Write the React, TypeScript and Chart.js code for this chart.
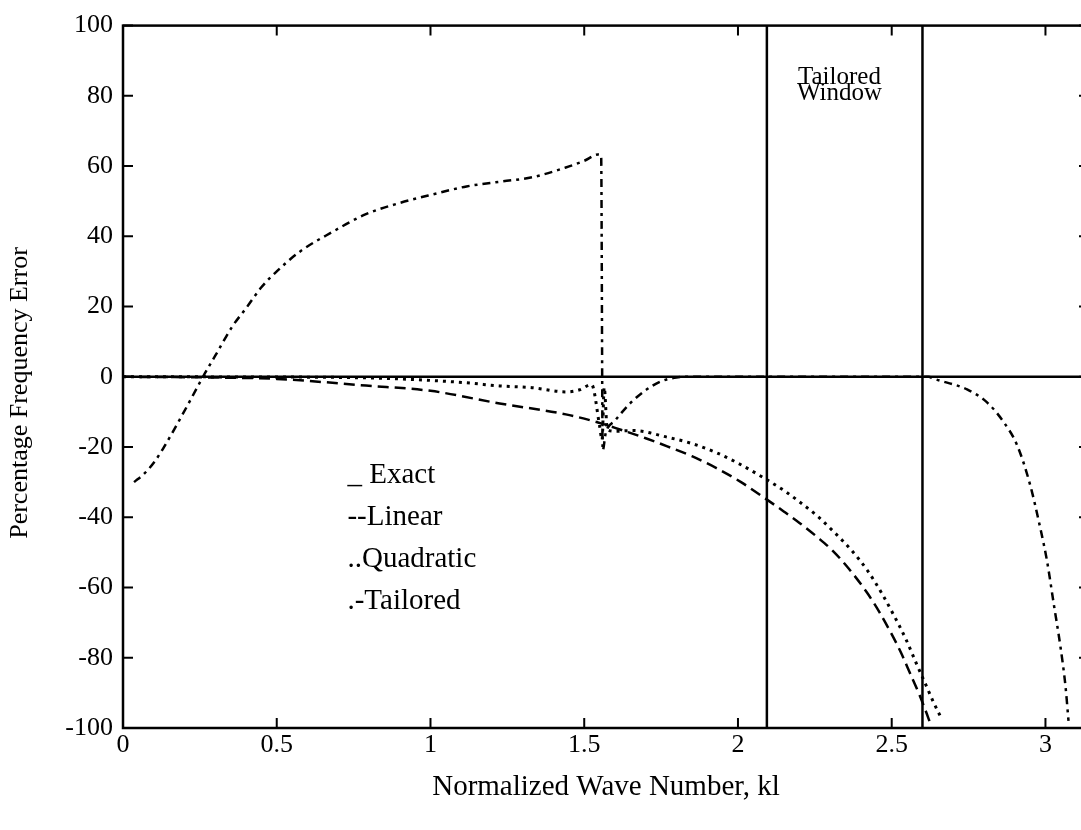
import React, { useEffect, useRef } from 'react';
import { Chart, registerables } from 'chart.js';

Chart.register(...registerables);

const SERIF = '"Liberation Serif", "Times New Roman", Times, serif';

// Axis ranges and tick values
const X_MIN = 0;
const X_MAX = 3.1416;
const Y_MIN = -100;
const Y_MAX = 100;
const xTickValues = [0, 0.5, 1, 1.5, 2, 2.5, 3];
const yTickValues = [-100, -80, -60, -40, -20, 0, 20, 40, 60, 80, 100];

// Exact dispersion: zero error everywhere
const exactX = [0, 3.1416];
const exactY = [0, 0];

// Linear elements
const linearX = [0, 0.3, 0.5, 0.79, 1.0, 1.225, 1.44, 1.545, 1.616, 1.7, 1.77, 1.85, 1.93, 2.01, 2.088, 2.15, 2.2, 2.26, 2.31, 2.36, 2.42, 2.46, 2.495, 2.53, 2.56, 2.59, 2.61, 2.625];
const linearY = [0, -0.2, -0.6, -2.5, -4, -7.6, -10.7, -13, -15, -17.5, -19.8, -22.6, -26, -30, -34.6, -38.4, -41.6, -45.8, -49.7, -54.6, -61.5, -67, -72.5, -78.5, -84.5, -90.5, -95, -98.6];

// Quadratic elements
const quadraticX = [0, 0.6, 0.79, 0.95, 1.117, 1.225, 1.33, 1.443, 1.485, 1.524, 1.55, 1.558, 1.565, 1.575, 1.6, 1.66, 1.77, 1.85, 1.93, 2.0, 2.088, 2.15, 2.2, 2.26, 2.31, 2.37, 2.42, 2.47, 2.505, 2.545, 2.58, 2.61, 2.635, 2.66];
const quadraticY = [0, -0.1, -0.3, -0.8, -1.7, -2.6, -3.1, -4.3, -3.7, -2.2, -14, -18, -3, -15, -15.5, -15.3, -17.2, -19, -21.6, -24.6, -29, -32.4, -35.6, -39.8, -44, -49.5, -55, -62, -67.6, -74.5, -81.6, -87.5, -92.5, -97];

// Tailored elements
const tailoredX = [0.036, 0.07, 0.1, 0.13, 0.16, 0.19, 0.225, 0.26, 0.3, 0.356, 0.4, 0.45, 0.5, 0.573, 0.68, 0.79, 0.9, 1.01, 1.117, 1.23, 1.33, 1.44, 1.5, 1.545, 1.555, 1.56, 1.57, 1.6, 1.65, 1.7, 1.75, 1.8, 1.85, 2.0, 2.3, 2.62, 2.635, 2.745, 2.81, 2.865, 2.908, 2.95, 2.983, 3.005, 3.027, 3.049, 3.065, 3.075];
const tailoredY = [-30, -27.5, -24.5, -20.5, -16, -11.3, -5.7, 0, 6, 14.4, 19.5, 25.5, 30, 35.5, 41.2, 46.3, 49.5, 52, 54.2, 55.6, 56.8, 59.6, 61.5, 63.3, 63, -21, -16, -12.5, -7.5, -3.8, -1.3, -0.2, 0, 0, 0, 0, -0.5, -3.6, -7.3, -13, -19.5, -30.7, -43, -52.4, -64.7, -77, -88, -98];

// Edges of the tailored window
const windowEdges = [2.094, 2.6];

// Text annotations (data coordinates)
const legendLines = ['_ Exact', '--Linear', '..Quadratic', '.-Tailored'];
const legendX = 0.73;
const legendY = [-28, -40, -52, -64];
const windowLabel = ['Tailored', 'Window'];
const windowLabelX = 2.33;
const windowLabelY = [85.2, 80.8];

const xTitle = 'Normalized Wave Number, kl';
const yTitle = 'Percentage Frequency Error';

const toPoints = (xs: number[], ys: number[]) => xs.map((x, i) => ({ x, y: ys[i] }));

const framePlugin = {
  id: 'frameAndNotes',
  afterDatasetsDraw(chart: any) {
    const { ctx, chartArea, scales } = chart;
    const { left, right, top, bottom } = chartArea;
    const xs = scales.x;
    const ys = scales.y;
    ctx.save();
    ctx.strokeStyle = '#000';
    ctx.lineWidth = 2.5;
    ctx.strokeRect(left, top, right - left, bottom - top);

    // inward tick marks on all four sides
    const len = 10;
    ctx.lineWidth = 2;
    ctx.beginPath();
    xs.ticks.forEach((t: any) => {
      const px = xs.getPixelForValue(t.value);
      ctx.moveTo(px, bottom);
      ctx.lineTo(px, bottom - len);
      ctx.moveTo(px, top);
      ctx.lineTo(px, top + len);
    });
    ys.ticks.forEach((t: any) => {
      const py = ys.getPixelForValue(t.value);
      ctx.moveTo(left, py);
      ctx.lineTo(left + len, py);
      ctx.moveTo(right, py);
      ctx.lineTo(right - len, py);
    });
    ctx.stroke();

    ctx.fillStyle = '#000';
    ctx.textBaseline = 'middle';

    // legend text
    ctx.font = `29px ${SERIF}`;
    ctx.textAlign = 'left';
    legendLines.forEach((s, i) => {
      ctx.fillText(s, xs.getPixelForValue(legendX), ys.getPixelForValue(legendY[i]));
    });

    // window label
    ctx.font = `25px ${SERIF}`;
    ctx.textAlign = 'center';
    windowLabel.forEach((s, i) => {
      ctx.fillText(s, xs.getPixelForValue(windowLabelX), ys.getPixelForValue(windowLabelY[i]));
    });

    // y axis title
    ctx.font = `26px ${SERIF}`;
    ctx.translate(20, 393);
    ctx.rotate(-Math.PI / 2);
    ctx.textAlign = 'center';
    ctx.fillText(yTitle, 0, 0);
    ctx.restore();
  },
};

export default function App() {
  const canvasRef = useRef<HTMLCanvasElement | null>(null);

  useEffect(() => {
    const canvas = canvasRef.current;
    if (!canvas) return;

    const curve = (label: string, pts: { x: number; y: number }[], dash: number[], width: number) => ({
      label,
      data: pts,
      borderColor: '#000',
      borderWidth: width,
      borderDash: dash,
      borderCapStyle: 'butt' as const,
      pointRadius: 0,
      fill: false,
      cubicInterpolationMode: 'monotone' as const,
    });

    const datasets: any[] = [
      { label: 'Exact', data: toPoints(exactX, exactY), borderColor: '#000', borderWidth: 2.5, pointRadius: 0, fill: false },
      curve('Linear', toPoints(linearX, linearY), [11, 6], 2.5),
      curve('Quadratic', toPoints(quadraticX, quadraticY), [3, 5], 3),
      curve('Tailored', toPoints(tailoredX, tailoredY), [8, 5, 3, 5], 2.5),
      ...windowEdges.map((e) => ({
        label: 'window',
        data: [{ x: e, y: Y_MIN }, { x: e, y: Y_MAX }],
        borderColor: '#000',
        borderWidth: 2.5,
        pointRadius: 0,
        fill: false,
      })),
    ];

    const tickFont = { family: SERIF, size: 26 };

    const chart = new Chart(canvas, {
      type: 'line',
      data: { datasets },
      options: {
        animation: false,
        responsive: false,
        devicePixelRatio: 1,
        layout: { padding: { left: 0, right: 11, top: 20, bottom: 0 } },
        plugins: {
          legend: { display: false },
          tooltip: { enabled: false },
        },
        scales: {
          x: {
            type: 'linear',
            min: X_MIN,
            max: X_MAX,
            grid: { display: false, drawTicks: false, tickLength: 0 },
            border: { display: false },
            ticks: {
              color: '#000',
              font: tickFont,
              padding: 2,
              maxRotation: 0,
              includeBounds: false,
              callback: (v: any) => String(v),
            },
            afterBuildTicks: (s: any) => {
              s.ticks = xTickValues.map((value) => ({ value }));
            },
            afterFit: (s: any) => {
              s.height = 102;
            },
            title: {
              display: true,
              text: xTitle,
              color: '#000',
              font: { family: SERIF, size: 29 },
              padding: { top: 0, bottom: 25 },
            },
          },
          y: {
            type: 'linear',
            min: Y_MIN,
            max: Y_MAX,
            grid: { display: false, drawTicks: false, tickLength: 0 },
            border: { display: false },
            ticks: {
              color: '#000',
              font: tickFont,
              padding: 10,
              includeBounds: false,
              callback: (v: any) => String(v),
            },
            afterBuildTicks: (s: any) => {
              s.ticks = yTickValues.map((value) => ({ value }));
            },
            afterFit: (s: any) => {
              s.width = 123;
            },
          },
        },
      },
      plugins: [framePlugin],
    });

    return () => chart.destroy();
  }, []);

  return (
    <div
      style={{
        position: 'fixed',
        left: 0,
        top: 0,
        width: 1081,
        height: 830,
        overflow: 'hidden',
        background: '#fff',
      }}
    >
      <canvas ref={canvasRef} width={1100} height={830} style={{ display: 'block', width: 1100, height: 830 }} />
    </div>
  );
}
